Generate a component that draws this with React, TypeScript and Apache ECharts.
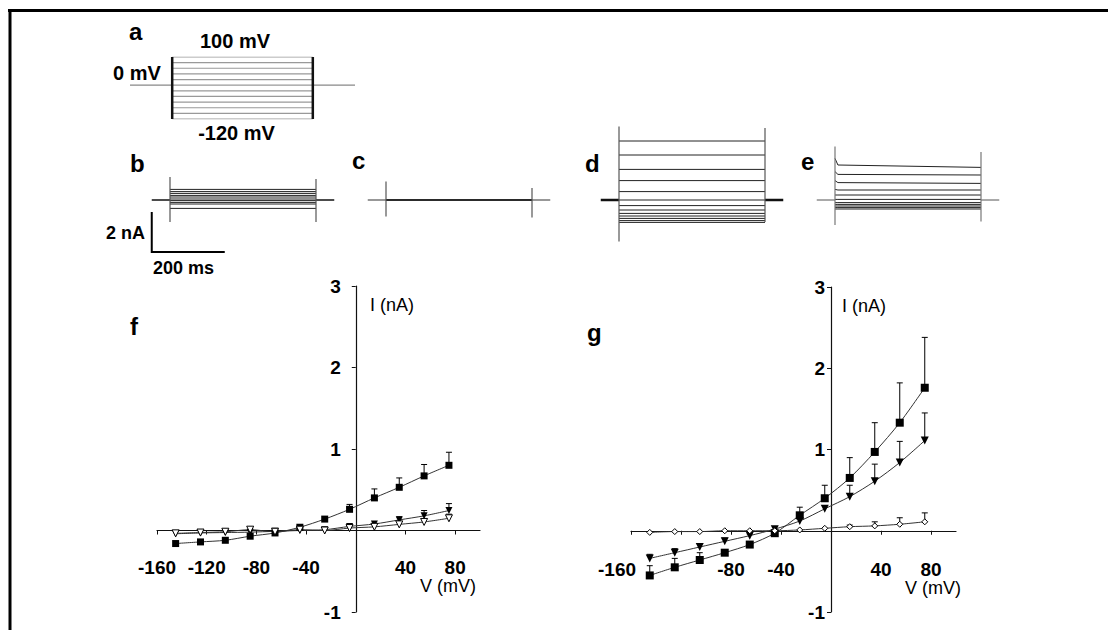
import React, { useEffect, useRef } from "react";
import * as echarts from "echarts";

const FONT = "'Liberation Sans', Arial, sans-serif";

// ---- Panel a: voltage protocol (mV), times in ms ----
const protocolLevels = [100, 80, 60, 40, 20, 0, -20, -40, -60, -80, -100, -120];
const protocolHolding = 0;
const protocolTimes = [0, 120, 520, 640]; // start, step on, step off, end

// ---- Panels b-e: current traces (nA), times in ms ----
const sweepTimes = [0, 50, 450, 500]; // start, step on, step off, end
const bTraceLevels = [0.53, 0.42, 0.33, 0.23, 0.15, 0.05, -0.03, -0.12, -0.2, -0.42];
const bSpikeOn = [1.15, -1.1];
const bSpikeOff = [1.05, -1.1];
const cTraceLevels = [0.02, 0, -0.02];
const cSpikeOn = [0.92, -0.83];
const cSpikeOff = [0.6, -0.88];
const dTraceLevels = [2.95, 2.25, 1.53, 0.97, 0.42, 0, -0.28, -0.5, -0.67, -0.8, -0.92, -1.03, -1.12];
const dSpikeOn = [3.67, -2.08];
const dSpikeOff = [3.6, -1.1];
const eTraceStart = [2.08, 1.42, 0.97, 0.53, 0.25, 0.03, -0.13, -0.22, -0.3, -0.38, -0.45];
const eTraceSettle = [1.75, 1.28, 0.87, 0.5, 0.25, 0.03, -0.13, -0.22, -0.3, -0.38, -0.45];
const eTraceEnd = [1.63, 1.25, 0.83, 0.5, 0.25, 0.03, -0.13, -0.22, -0.3, -0.38, -0.45];
const eSpikeOn = [2.67, -1.25];
const eSpikeOff = [2.4, -1.08];
const scaleBarCurrent = 2; // nA
const scaleBarTime = 200; // ms
const scaleBarOrigin = [0, -2.6];

// ---- Panels f, g: I-V relations ----
const voltages = [-145, -125, -105, -85, -65, -45, -25, -5, 15, 35, 55, 75];
const fSquares = [-0.16, -0.14, -0.12, -0.07, -0.03, 0.04, 0.14, 0.26, 0.4, 0.53, 0.67, 0.8];
const fSquaresErr = [null, null, null, null, null, null, null, 0.32, 0.51, 0.645, 0.81, 0.96];
const fFilledTri = [-0.04, -0.03, -0.025, -0.02, -0.01, 0, 0.01, 0.05, 0.08, 0.13, 0.18, 0.245];
const fFilledTriErr = [null, null, null, null, null, null, null, null, null, 0.17, 0.245, 0.33];
const fOpenTri = [-0.035, -0.025, -0.015, 0.01, -0.015, 0.01, 0, 0.03, 0.045, 0.075, 0.105, 0.15];
const fOpenTriErr = [null, null, null, null, null, null, null, null, null, null, 0.14, 0.2];

const gSquares = [-0.55, -0.45, -0.36, -0.27, -0.17, -0.03, 0.19, 0.4, 0.65, 0.97, 1.33, 1.76];
const gSquaresErr = [-0.43, -0.34, -0.27, null, null, null, 0.29, 0.56, 0.9, 1.33, 1.82, 2.38];
const gFilledTri = [-0.34, -0.27, -0.2, -0.13, -0.06, 0.02, 0.12, 0.27, 0.42, 0.61, 0.84, 1.11];
const gFilledTriErr = [-0.29, -0.22, -0.16, -0.09, -0.04, null, null, null, 0.56, 0.82, 1.1, 1.45];
const gOpenDiamond = [-0.02, -0.01, -0.01, 0, 0, 0, 0.01, 0.03, 0.05, 0.06, 0.08, 0.11];
const gOpenDiamondErr = [null, null, null, null, null, null, null, null, 0.07, 0.11, 0.16, 0.22];

const xRange = [-160, 100];
const yRange = [-1, 3];
const xTickValues = [-160, -120, -80, -40, 40, 80];
const fXTickLabels = [-160, -120, -80, -40, 40, 80];
const gXTickLabels = [-160, -80, -40, 40, 80];
const yTickLabels = [-1, 1, 2, 3];

function hiddenX(gi: number, min: number, max: number) {
  return { type: "value", gridIndex: gi, min, max, show: false, splitLine: { show: false } };
}
function hiddenY(gi: number, min: number, max: number) {
  return { type: "value", gridIndex: gi, min, max, show: false, splitLine: { show: false } };
}

function linesSeries(gi: number, segs: number[][][], color: string, width: number, z = 2) {
  return {
    type: "lines",
    coordinateSystem: "cartesian2d",
    xAxisIndex: gi,
    yAxisIndex: gi,
    polyline: true,
    silent: true,
    z,
    lineStyle: { color, width, opacity: 1 },
    data: segs.map((c) => ({ coords: c })),
  };
}

function sweepSeries(gi: number, levels: number[], spikeOn: number[], spikeOff: number[], baseColor: string, baseWidth: number) {
  const [t0, tOn, tOff, tEnd] = sweepTimes;
  return [
    linesSeries(gi, [[[t0, 0], [tOn, 0]], [[tOff, 0], [tEnd, 0]]], baseColor, baseWidth),
    linesSeries(gi, levels.map((l) => [[tOn, l], [tOff, l]]), "#222", 1),
    linesSeries(gi, [[[tOn, spikeOn[0]], [tOn, spikeOn[1]]], [[tOff, spikeOff[0]], [tOff, spikeOff[1]]]], "#555", 1.2),
  ];
}

function errSeries(gi: number, vals: number[], errs: (number | null)[]) {
  const data = voltages
    .map((v, i) => (errs[i] === null ? null : [v, vals[i], errs[i] as number]))
    .filter((d) => d !== null);
  return {
    type: "custom",
    xAxisIndex: gi,
    yAxisIndex: gi,
    silent: true,
    z: 3,
    encode: { x: 0, y: [1, 2] },
    data,
    renderItem: (_params: any, api: any) => {
      const p0 = api.coord([api.value(0), api.value(1)]);
      const p1 = api.coord([api.value(0), api.value(2)]);
      return {
        type: "group",
        children: [
          { type: "line", shape: { x1: p0[0], y1: p0[1], x2: p1[0], y2: p1[1] }, style: { stroke: "#000", lineWidth: 1 } },
          { type: "line", shape: { x1: p1[0] - 3, y1: p1[1], x2: p1[0] + 3, y2: p1[1] }, style: { stroke: "#000", lineWidth: 1 } },
        ],
      };
    },
  };
}

function ivSeries(gi: number, vals: number[], symbol: string, rotate: number, size: number, open: boolean) {
  return {
    type: "line",
    xAxisIndex: gi,
    yAxisIndex: gi,
    data: voltages.map((v, i) => [v, vals[i]]),
    smooth: 0.3,
    symbol,
    symbolRotate: rotate,
    symbolSize: size,
    showAllSymbol: true,
    silent: true,
    z: 4,
    lineStyle: { color: "#333", width: 1 },
    itemStyle: open ? { color: "#fff", borderColor: "#000", borderWidth: 1 } : { color: "#000", borderWidth: 0 },
  };
}

// the axes cross at the origin: offsets move them from the grid edge to zero
function ivXAxis(gi: number, labels: number[], shiftFirst: boolean, gridH: number) {
  const offset = -((0 - yRange[0]) / (yRange[1] - yRange[0])) * gridH;
  return {
    type: "value",
    gridIndex: gi,
    min: xRange[0],
    max: xRange[1],
    position: "bottom",
    offset,
    splitLine: { show: false },
    axisLine: { show: true, onZero: false, lineStyle: { color: "#111", width: 1.2 } },
    axisTick: { show: true, customValues: xTickValues, length: 4, lineStyle: { color: "#111" } },
    axisLabel: {
      show: true,
      customValues: labels,
      margin: shiftFirst ? 29 : 27,
      fontSize: 19,
      fontWeight: "bold",
      color: "#000",
      fontFamily: FONT,
      formatter: (v: number) => (shiftFirst && v === -160 ? "{s|" + v + "}" : String(v)),
      rich: { s: { padding: [0, 28, 0, 0], fontSize: 19, fontWeight: "bold", color: "#000", fontFamily: FONT } },
    },
  };
}

function ivYAxis(gi: number, margin: number, gridW: number) {
  const offset = -((0 - xRange[0]) / (xRange[1] - xRange[0])) * gridW;
  return {
    type: "value",
    gridIndex: gi,
    min: yRange[0],
    max: yRange[1],
    interval: 1,
    position: "left",
    offset,
    splitLine: { show: false },
    axisLine: { show: true, onZero: false, lineStyle: { color: "#111", width: 1.2 } },
    axisTick: { show: true, customValues: yTickLabels, length: 4, lineStyle: { color: "#111" } },
    axisLabel: {
      show: true,
      customValues: yTickLabels,
      margin,
      fontSize: 19,
      fontWeight: "bold",
      color: "#000",
      fontFamily: FONT,
    },
  };
}

function txt(text: string, x: number, y: number, size: number, bold: boolean, align = "left") {
  return {
    type: "text",
    x,
    y,
    silent: true,
    style: {
      text,
      fill: "#000",
      font: `${bold ? "bold " : ""}${size}px ${FONT}`,
      textAlign: align,
      textVerticalAlign: "middle",
    },
  };
}

export default function App() {
  const ref = useRef<HTMLDivElement>(null);
  useEffect(() => {
    if (!ref.current) return;
    const chart = echarts.init(ref.current, undefined, { renderer: "svg" });
    const [pt0, ptOn, ptOff, ptEnd] = protocolTimes;
    const [t0, tOn, tOff, tEnd] = sweepTimes;
    const traceTop = 120;
    const traceH = 140;
    const traceW = 182.5;
    const fGrid = { left: 157, top: 286, width: 323, height: 326 };
    const gGrid = { left: 631, top: 287, width: 325, height: 325 };

    const series: any[] = [];
    // Panel a
    series.push(
      linesSeries(0, [[[pt0, protocolHolding], [ptOn, protocolHolding]], [[ptOff, protocolHolding], [ptEnd, protocolHolding]]], "#888", 1.3),
      linesSeries(0, protocolLevels.map((l) => [[ptOn, l], [ptOff, l]]), "#999", 1.2),
      linesSeries(
        0,
        [
          [[ptOn, Math.min(...protocolLevels)], [ptOn, Math.max(...protocolLevels)]],
          [[ptOff, Math.min(...protocolLevels)], [ptOff, Math.max(...protocolLevels)]],
        ],
        "#111",
        2.5,
        3
      )
    );
    // Panels b-e
    series.push(...sweepSeries(1, bTraceLevels, bSpikeOn, bSpikeOff, "#111", 1.5));
    series.push(...sweepSeries(2, cTraceLevels, cSpikeOn, cSpikeOff, "#333", 1.2));
    series.push(...sweepSeries(3, dTraceLevels, dSpikeOn, dSpikeOff, "#111", 2.5));
    series.push(linesSeries(4, [[[t0, 0], [tOn, 0]], [[tOff, 0], [tEnd, 0]]], "#555", 1));
    series.push(
      linesSeries(
        4,
        eTraceStart.map((s, i) => [[tOn, s], [tOn + 8, eTraceSettle[i]], [tOff, eTraceEnd[i]]]),
        "#222",
        1
      )
    );
    series.push(linesSeries(4, [[[tOn, eSpikeOn[0]], [tOn, eSpikeOn[1]]], [[tOff, eSpikeOff[0]], [tOff, eSpikeOff[1]]]], "#777", 1.2));
    // scale bar
    series.push(
      linesSeries(
        1,
        [[
          [scaleBarOrigin[0], scaleBarOrigin[1] + scaleBarCurrent],
          [scaleBarOrigin[0], scaleBarOrigin[1]],
          [scaleBarOrigin[0] + scaleBarTime, scaleBarOrigin[1]],
        ]],
        "#000",
        2
      )
    );

    // Panel f
    series.push(errSeries(5, fSquares, fSquaresErr), errSeries(5, fFilledTri, fFilledTriErr), errSeries(5, fOpenTri, fOpenTriErr));
    series.push(
      ivSeries(5, fSquares, "rect", 0, 7, false),
      ivSeries(5, fFilledTri, "triangle", 180, 7, false),
      ivSeries(5, fOpenTri, "triangle", 180, 7, true)
    );
    // Panel g
    series.push(errSeries(6, gSquares, gSquaresErr), errSeries(6, gFilledTri, gFilledTriErr), errSeries(6, gOpenDiamond, gOpenDiamondErr));
    series.push(
      ivSeries(6, gSquares, "rect", 0, 8, false),
      ivSeries(6, gFilledTri, "triangle", 180, 8, false),
      ivSeries(6, gOpenDiamond, "diamond", 0, 6, true)
    );

    const noBounds = { outerBoundsMode: "none", containLabel: false };
    chart.setOption({
      animation: false,
      backgroundColor: "#fff",
      grid: [
        { left: 130, top: 57, width: 225, height: 62, ...noBounds },
        { left: 151.75, top: traceTop, width: traceW, height: traceH, ...noBounds },
        { left: 367.75, top: traceTop, width: traceW, height: traceH, ...noBounds },
        { left: 600.75, top: traceTop, width: traceW, height: traceH, ...noBounds },
        { left: 816.75, top: traceTop, width: traceW, height: traceH, ...noBounds },
        { ...fGrid, ...noBounds },
        { ...gGrid, ...noBounds },
      ],
      xAxis: [
        hiddenX(0, pt0, ptEnd),
        hiddenX(1, t0, tEnd),
        hiddenX(2, t0, tEnd),
        hiddenX(3, t0, tEnd),
        hiddenX(4, t0, tEnd),
        ivXAxis(5, fXTickLabels, false, fGrid.height),
        ivXAxis(6, gXTickLabels, true, gGrid.height),
      ],
      yAxis: [
        hiddenY(0, Math.min(...protocolLevels), Math.max(...protocolLevels)),
        hiddenY(1, -3, 4),
        hiddenY(2, -3, 4),
        hiddenY(3, -3, 4),
        hiddenY(4, -3, 4),
        ivYAxis(5, 15, fGrid.width),
        ivYAxis(6, 6, gGrid.width),
      ],
      series,
      graphic: [
        { type: "line", silent: true, shape: { x1: 8, y1: 10.5, x2: 1108, y2: 10.5 }, style: { stroke: "#000", lineWidth: 3 } },
        { type: "line", silent: true, shape: { x1: 10, y1: 9, x2: 10, y2: 630 }, style: { stroke: "#000", lineWidth: 3 } },
        txt("a", 129, 31.5, 24, true),
        txt("100 mV", 235, 41, 20, true, "center"),
        txt("0 mV", 113, 73, 20, true),
        txt("-120 mV", 236.5, 133, 20, true, "center"),
        txt("b", 130, 163.5, 24, true),
        txt("c", 352, 160.5, 24, true),
        txt("d", 585, 163.5, 24, true),
        txt("e", 801, 161.5, 24, true),
        txt("2 nA", 145, 233, 18, true, "right"),
        txt("200 ms", 153, 268, 18, true),
        txt("f", 130, 326.5, 24, true),
        txt("g", 587, 332, 24, true),
        txt("I (nA)", 370, 305, 18, false),
        txt("V (mV)", 420, 586, 18, false),
        txt("I (nA)", 842, 306, 18, false),
        txt("V (mV)", 905, 588, 18, false),
      ],
    });
    return () => chart.dispose();
  }, []);
  return <div ref={ref} style={{ position: "fixed", left: 0, top: 0, width: 1108, height: 630, background: "#fff" }} />;
}
